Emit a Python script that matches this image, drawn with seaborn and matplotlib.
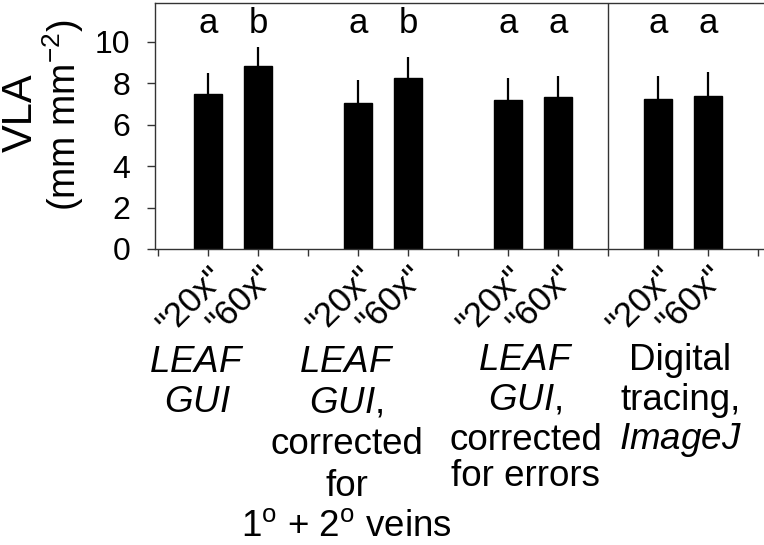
import numpy as np
import pandas as pd
import seaborn as sns
import matplotlib.pyplot as plt
import matplotlib.transforms as mtransforms

# values
groups = ["LEAF GUI", "LEAF GUI corr. 1+2 veins", "LEAF GUI corr. errors", "Digital tracing ImageJ"]
mags = ['"20x"', '"60x"']
vla = [7.48, 8.86, 7.03, 8.27, 7.19, 7.32, 7.22, 7.40]
vla_se = [1.00, 0.90, 1.12, 0.98, 1.05, 1.03, 1.12, 1.13]
letters = ["a", "b", "a", "b", "a", "a", "a", "a"]

group_lines = [
    ["$\\mathit{LEAF}$", "$\\mathit{GUI}$"],
    ["$\\mathit{LEAF}$", "$\\mathit{GUI}$,", "corrected", "for", "1$^{\\mathrm{o}}$ + 2$^{\\mathrm{o}}$ veins"],
    ["$\\mathit{LEAF}$", "$\\mathit{GUI}$,", "corrected", "for errors"],
    ["Digital", "tracing,", "$\\mathit{ImageJ}$"],
]

sns.set_style("white")
plt.rcParams["font.family"] = ["Liberation Sans", "DejaVu Sans"]
plt.rcParams["mathtext.fontset"] = "custom"
plt.rcParams["mathtext.rm"] = "Liberation Sans"
plt.rcParams["mathtext.it"] = "Liberation Sans:italic"
for key in ["text.color", "xtick.color", "ytick.color", "axes.labelcolor"]:
    plt.rcParams[key] = "black"

rows = []
for g, name in enumerate(groups):
    for j, m in enumerate(mags):
        k = g * 2 + j
        rows.append({"group": name, "mag": m, "pos": g * 3 + 1 + j,
                     "vla": vla[k], "se": vla_se[k], "letter": letters[k]})
df = pd.DataFrame(rows)

fig = plt.figure(figsize=(7.64, 5.45), dpi=100)
W, H = 764, 545
ax = fig.add_axes([155 / W, 1 - 249 / H, 608 / W, 246 / H])

sns.barplot(data=df, x="pos", y="vla", native_scale=True, width=0.56,
            color="black", edgecolor="black", errorbar=None, ax=ax)
ax.errorbar(df["pos"], df["vla"], yerr=[np.zeros(len(df)), df["se"]],
            fmt="none", ecolor="black", elinewidth=1.6, capsize=0)

for _, r in df.iterrows():
    ax.text(r["pos"], 10.42, r["letter"], ha="center", va="baseline", fontsize=25)

ax.axvline(9, color="#333333", lw=1.0)
ax.set_xlim(-0.06, 12.1)
ax.set_ylim(0, 11.88)

ax.set_yticks([0, 2, 4, 6, 8, 10])
ax.tick_params(axis="y", labelsize=23, length=6, width=1, pad=12, color="#333333", left=True)
ax.set_xticks(df["pos"], df["mag"], rotation=45, ha="right", rotation_mode="anchor", fontsize=25)
ax.set_xticks([0, 3, 6, 9, 12], minor=True)
ax.tick_params(axis="x", which="both", length=5, width=1, pad=3, color="#333333", bottom=True)
ax.set_xlabel("")
ax.set_ylabel("")
for s in ["left", "bottom", "top"]:
    ax.spines[s].set_color("#333333")
    ax.spines[s].set_linewidth(1.0)
ax.spines["right"].set_visible(False)

fig.text(21 / W, 1 - 113 / H, "VLA", rotation=90, ha="center", va="center", fontsize=30)
fig.text(63 / W, 1 - 115 / H, "(mm mm$^{-2}$)", rotation=90, ha="center", va="center", fontsize=27)

centers = [0.78, 3.77, 7.35, 10.45]
line_y = [[363, 403], [363, 403, 445, 487, 526], [361, 400, 440, 477], [360, 400, 440]]
trans = mtransforms.blended_transform_factory(ax.transData, fig.transFigure)
for c, lines, ys in zip(centers, group_lines, line_y):
    for txt, y in zip(lines, ys):
        ax.text(c, 1 - y / H, txt, transform=trans, ha="center", va="center", fontsize=26.5)

fig.savefig("out.png", dpi=100)
